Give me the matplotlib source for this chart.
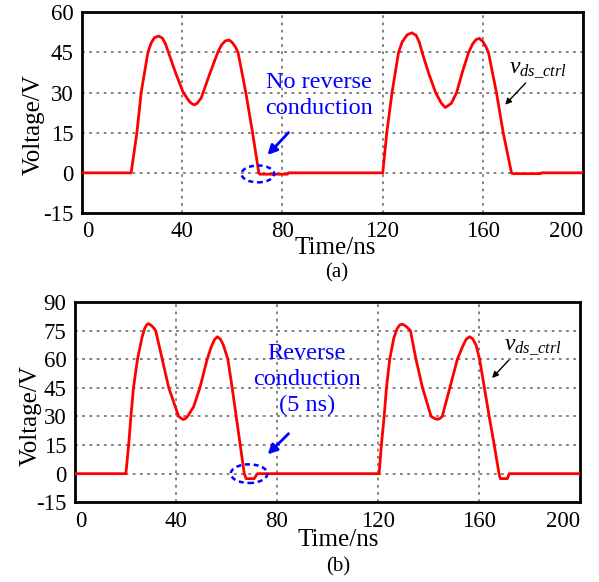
import matplotlib
matplotlib.use("Agg")
import matplotlib.pyplot as plt
from matplotlib.patches import Ellipse

# (a) no reverse conduction
t_a = [0, 19.6, 21.9, 23.6, 26.3, 27.6, 28.9, 30.6, 32.1, 33.3,
       34.5, 37.5, 40.4, 43, 44.1, 44.9, 46, 47.6, 51, 54.2,
       55.7, 57.2, 58.7, 60, 61.2, 62.3, 65.4, 68.1, 70.6, 71,
       82, 82.5, 120.1, 121.7, 123.8, 126.4, 127.9, 129.9, 131.7, 133.4,
       134.7, 135.8, 138.5, 141.2, 143.5, 145.1, 147.5, 149.6, 152, 154.4,
       156, 157.4, 158.7, 160, 161.2, 162.3, 165.5, 168.2, 171.5, 172,
       183.1, 183.5, 200]
v_a = [0, 0, 15, 30, 45, 48.5, 50.5, 51.1, 50.3, 48.2,
       45, 37, 30, 26.5, 25.7, 25.4, 26, 28, 37, 45,
       47.8, 49.3, 49.6, 48.7, 47.1, 45, 30, 15, 0, -0.5,
       -0.5, 0, 0, 15, 30, 45, 49, 51.6, 52.3, 51.4,
       48.8, 45, 37, 30, 26, 24.4, 26, 30, 38, 45,
       48.2, 49.8, 50.2, 49.1, 47.3, 45, 30, 15, 0, -0.3,
       -0.3, 0, 0]

# (b) reverse conduction (5 ns)
t_b = [0, 20.2, 21.3, 22.2, 23.2, 24.8, 26.5, 27.6, 28.4, 29.1,
       30, 31, 32, 34.6, 37.2, 41.1, 42.3, 43, 43.8, 44.6,
       47, 49.5, 52.4, 54, 55.3, 56.4, 57.6, 58.8, 60.6, 62.3,
       63.9, 65.5, 67.1, 67.8, 71, 72.3, 120.5, 121.4, 122.5, 123.4,
       124.7, 126.3, 127.6, 128.6, 129.6, 130.6, 131.7, 132.9, 135.1, 137.7,
       141.1, 142.7, 143.7, 144.6, 145.5, 148.5, 151.5, 153.5, 155, 156.3,
       157.6, 158.9, 160.3, 162.2, 164.1, 166.1, 168, 168.5, 171.3, 172,
       200]
v_b = [0, 0, 15, 30, 45, 60, 71, 76, 78, 78.7,
       78, 76.8, 75, 60, 45, 30, 28.8, 28.4, 28.9, 30,
       35, 45, 60, 66.5, 70.3, 71.8, 70.6, 67.5, 60, 45,
       30, 15, 0, -2.6, -2.6, 0, 0, 15, 30, 45,
       60, 71, 76, 77.9, 78.4, 77.8, 76.6, 75, 60, 45,
       30, 28.8, 28.5, 29, 30, 45, 60, 66.5, 70.5, 71.8,
       70.7, 67.4, 60, 45, 30, 15, 0, -2.6, -2.6, 0,
       0]

x_ticks = [0, 40, 80, 120, 160, 200]
y_ticks_a = [-15, 0, 15, 30, 45, 60]
y_ticks_b = [-15, 0, 15, 30, 45, 60, 75, 90]

plt.rcParams["font.family"] = ["Liberation Serif", "DejaVu Serif"]
plt.rcParams["axes.unicode_minus"] = False
plt.rcParams["mathtext.fontset"] = "custom"
plt.rcParams["mathtext.rm"] = "Liberation Serif"
plt.rcParams["mathtext.it"] = "Liberation Serif:italic"

fig = plt.figure(figsize=(5.99, 5.82), dpi=100)
ax_a = fig.add_axes([0.137, 0.634, 0.836, 0.345])
ax_b = fig.add_axes([0.125, 0.137, 0.843, 0.344])


def style_axes(ax, yticks, label_xy):
    ax.set_xlim(0, 200)
    ax.set_ylim(yticks[0], yticks[-1])
    ax.set_xticks(x_ticks)
    ax.set_yticks(yticks)
    ax.tick_params(length=0, labelsize=16.5, pad=6)
    xl = ax.get_xticklabels()
    xl[0].set_ha("left")
    xl[-1].set_ha("right")
    ax.grid(True, color="#777777", linestyle=(0, (1.5, 2.5)), linewidth=1.3)
    for sp in ax.spines.values():
        sp.set_linewidth(2.0)
        sp.set_color("black")
    ax.set_ylabel("Voltage/V", fontsize=18)
    ax.yaxis.set_label_coords(*label_xy)


for ax, t, v, yt, lxy in [(ax_a, t_a, v_a, y_ticks_a, (-0.074, 0.44)),
                          (ax_b, t_b, v_b, y_ticks_b, (-0.066, 0.435))]:
    ax.plot(t, v, color="red", lw=2.0, solid_joinstyle="round", zorder=3)
    style_axes(ax, yt, lxy)

# panel (a) annotations
ax_a.text(94.7, 29, "No reverse\nconduction", color="blue", fontsize=17.5,
          ha="center", va="center", linespacing=1.3)
ax_a.annotate("", xy=(73.3, 5.9), xytext=(83.2, 15.8),
              arrowprops=dict(arrowstyle="-|>", color="blue", lw=2, mutation_scale=14))
ax_a.add_patch(Ellipse((70.2, -0.4), 13, 6.3, fill=False, edgecolor="blue",
                       linestyle=(0, (2, 1.5)), lw=1.8, zorder=4))
ax_a.text(182, 38.7, r"$v_{ds\_ctrl}$", fontsize=17, ha="center", va="center")
ax_a.annotate("", xy=(168.2, 24.7), xytext=(177.9, 34.3),
              arrowprops=dict(arrowstyle="-|>", color="black", lw=1, mutation_scale=9))

# panel (b) annotations
ax_b.text(91.8, 49.5, "Reverse\nconduction\n(5 ns)", color="blue", fontsize=17.5,
          ha="center", va="center", linespacing=1.3)
ax_b.annotate("", xy=(75.6, 9.1), xytext=(85.4, 22),
              arrowprops=dict(arrowstyle="-|>", color="blue", lw=2, mutation_scale=14))
ax_b.add_patch(Ellipse((69, 0), 14.5, 9.8, fill=False, edgecolor="blue",
                       linestyle=(0, (2, 1.5)), lw=1.8, zorder=4))
ax_b.text(181.3, 66.6, r"$v_{ds\_ctrl}$", fontsize=17, ha="center", va="center")
ax_b.annotate("", xy=(164.5, 49.1), xytext=(172.6, 60.6),
              arrowprops=dict(arrowstyle="-|>", color="black", lw=1, mutation_scale=9))

fig.text(335 / 599, 1 - 248 / 582, "Time/ns", fontsize=18, ha="center", va="center")
fig.text(337 / 599, 1 - 273 / 582, "(a)", fontsize=15, ha="center", va="center")
fig.text(338 / 599, 1 - 540 / 582, "Time/ns", fontsize=18, ha="center", va="center")
fig.text(338 / 599, 1 - 567 / 582, "(b)", fontsize=15, ha="center", va="center")

fig.savefig("out.png", dpi=100)
